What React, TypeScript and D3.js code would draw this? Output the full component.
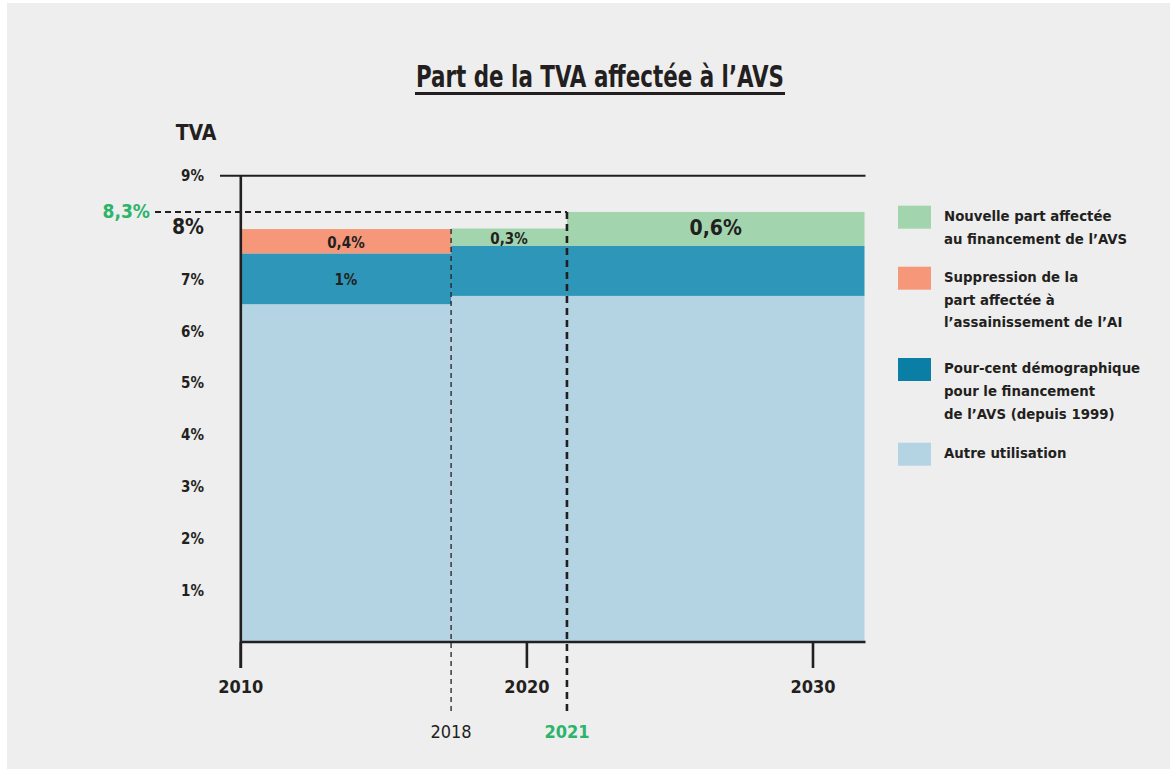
import React from 'react';
import * as d3 from 'd3';

// ---- data ----
const periods = ['2010-2018', '2018-2021', '2021-'];
const periodStart = [2010, 2017.35, 2021.4];
const periodEnd = [2017.35, 2021.4, 2031.8];
const autre = [6.52, 6.68, 6.68];
const demo = [0.98, 0.97, 0.97];
const ai = [0.47, 0, 0];
const nouvelle = [0, 0.33, 0.65];
const aiLabels = ['0,4%', '', ''];
const demoLabels = ['1%', '', ''];
const nouvelleLabels = ['', '0,3%', '0,6%'];
const yTicks = [1, 2, 3, 4, 5, 6, 7, 8, 9];
const xTicks = [2010, 2020, 2030];
const markerYears = [2017.35, 2021.4];
const markerLabels = ['2018', '2021'];
const refLevel = 8.3;
const refLabel = '8,3%';

const keys = ['autre', 'demo', 'ai', 'nouvelle'];
const colors: Record<string, string> = {
  autre: '#b4d4e4',
  demo: '#2e97b9',
  ai: '#f7977a',
  nouvelle: '#a2d4ae',
};
const legendItems = [
  { color: '#a2d4ae', lines: ['Nouvelle part affectée', 'au financement de l’AVS'] },
  { color: '#f7977a', lines: ['Suppression de la', 'part affectée à', 'l’assainissement de l’AI'] },
  { color: '#0a7ea5', lines: ['Pour-cent démographique', 'pour le financement', 'de l’AVS (depuis 1999)'] },
  { color: '#b4d4e4', lines: ['Autre utilisation'] },
];

const FONT = '"Liberation Sans Narrow", "DejaVu Sans Condensed", "Roboto Condensed", "Liberation Sans", sans-serif';
const TEXT = '#231f20';
const GREEN = '#2bb46a';

export default function App() {
  const x = d3.scaleLinear().domain([2010, 2030]).range([240.8, 813]);
  const y = d3.scaleLinear().domain([0, 9]).range([642, 175.7]);

  const table = periods.map((p, i) => ({
    i,
    autre: autre[i],
    demo: demo[i],
    ai: ai[i],
    nouvelle: nouvelle[i],
  }));
  const stack = d3.stack<any>().keys(keys)(table);
  const labelMap: Record<string, string[]> = { demo: demoLabels, ai: aiLabels, nouvelle: nouvelleLabels };

  const x0 = x(2010);
  const xEnd = x(periodEnd[2]);
  const yBase = y(0);
  const yTop = y(9);

  return (
    <svg width={1171} height={771} style={{ position: 'absolute', left: 0, top: 0 }} fontFamily={FONT}>
      <rect x={0} y={0} width={1171} height={771} fill="#ffffff" />
      <rect x={7} y={3} width={1163} height={766} fill="#eeeeee" />

      {/* title */}
      <text x={600} y={87} textAnchor="middle" fontSize={31} fontWeight="bold" fill={TEXT} textLength={368} lengthAdjust="spacingAndGlyphs">
        Part de la TVA affectée à l’AVS
      </text>
      <line x1={415} x2={785} y1={93.5} y2={93.5} stroke={TEXT} strokeWidth={3} />

      {/* bars */}
      {stack.map((layer) =>
        layer.map((d, i) => {
          const h = y(d[0]) - y(d[1]);
          if (h <= 0.01) return null;
          return (
            <rect
              key={layer.key + i}
              x={x(periodStart[i])}
              width={x(periodEnd[i]) - x(periodStart[i])}
              y={y(d[1])}
              height={h}
              fill={colors[layer.key]}
            />
          );
        })
      )}
      {stack.map((layer) =>
        layer.map((d, i) => {
          const lab = labelMap[layer.key] ? labelMap[layer.key][i] : '';
          if (!lab) return null;
          const big = layer.key === 'nouvelle' && i === 2;
          const cx = (x(periodStart[i]) + x(periodEnd[i])) / 2;
          const cy = (y(d[0]) + y(d[1])) / 2;
          return (
            <text key={'l' + layer.key + i} x={cx} y={cy + (big ? 0 : 2)} textAnchor="middle" dominantBaseline="middle"
              fontSize={big ? 21 : 15} fontWeight="bold" fill={TEXT}>
              {lab}
            </text>
          );
        })
      )}

      {/* 9% top line */}
      <line x1={220} x2={xEnd + 1} y1={yTop} y2={yTop} stroke={TEXT} strokeWidth={2} />
      {/* y axis */}
      <line x1={x0} x2={x0} y1={yTop} y2={668} stroke={TEXT} strokeWidth={2.6} />
      {/* x axis */}
      <line x1={x0} x2={xEnd + 1} y1={yBase} y2={yBase} stroke={TEXT} strokeWidth={2.6} />
      {xTicks.map((t) => (
        <g key={t}>
          <line x1={x(t)} x2={x(t)} y1={yBase} y2={668} stroke={TEXT} strokeWidth={2.6} />
          <text x={x(t)} y={693} textAnchor="middle" fontSize={18} fontWeight="bold" fill={TEXT}>
            {t}
          </text>
        </g>
      ))}

      {/* y tick labels */}
      <text x={196} y={140} textAnchor="middle" fontSize={21} fontWeight="bold" fill={TEXT}>TVA</text>
      {yTicks.map((t) => (
        <text key={t} x={204} y={y(t) + (t === 8 ? 0 : 1)} textAnchor="end" dominantBaseline="middle"
          fontSize={t === 8 ? 21 : 15} fontWeight="bold" fill={TEXT}>
          {t}%
        </text>
      ))}

      {/* reference dashed lines */}
      <line x1={155} x2={x(markerYears[1])} y1={y(refLevel)} y2={y(refLevel)} stroke={TEXT} strokeWidth={2} strokeDasharray="6,4" />
      <text x={150} y={y(refLevel) + 1} textAnchor="end" dominantBaseline="middle" fontSize={19} fontWeight="bold" fill={GREEN}>
        {refLabel}
      </text>
      <line x1={x(markerYears[0])} x2={x(markerYears[0])} y1={y(autre[0] + demo[0] + ai[0])} y2={712}
        stroke={TEXT} strokeWidth={1.3} strokeDasharray="5,4" />
      <line x1={x(markerYears[1])} x2={x(markerYears[1])} y1={y(refLevel)} y2={712}
        stroke={TEXT} strokeWidth={2.6} strokeDasharray="7,5" />
      <text x={x(markerYears[0])} y={738} textAnchor="middle" fontSize={18} fill={TEXT}>
        {markerLabels[0]}
      </text>
      <text x={x(markerYears[1])} y={738} textAnchor="middle" fontSize={18} fontWeight="bold" fill={GREEN}>
        {markerLabels[1]}
      </text>

      {/* legend */}
      {legendItems.map((it, k) => {
        const tops = [205.7, 266.7, 358, 442.7];
        const ty = tops[k];
        return (
          <g key={k}>
            <rect x={898} y={ty} width={33} height={23} fill={it.color} />
            {it.lines.map((ln, j) => (
              <text key={j} x={944} y={ty + 11 + j * 22.8} dominantBaseline="middle" fontSize={14.8} fontWeight="bold" fill={TEXT}>
                {ln}
              </text>
            ))}
          </g>
        );
      })}
    </svg>
  );
}
